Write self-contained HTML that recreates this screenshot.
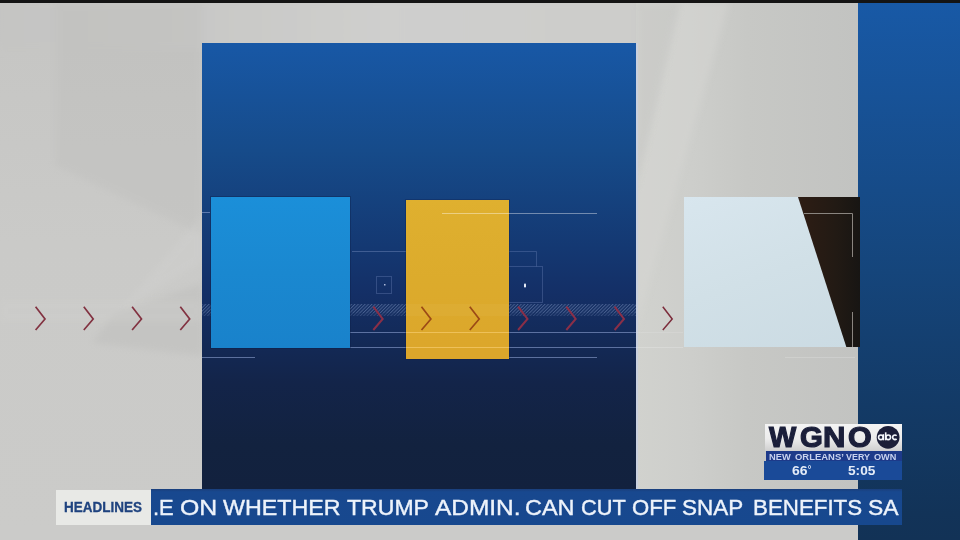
<!DOCTYPE html>
<html><head><meta charset="utf-8">
<style>
html,body{margin:0;padding:0;}
body{width:960px;height:540px;overflow:hidden;position:relative;background:#c6c6c4;font-family:"Liberation Sans",sans-serif;}
.a{position:absolute;}
#bg{left:0;top:0;width:960px;height:540px;}
#topbar{left:0;top:0;width:960px;height:3px;background:#141414;}
#panel{left:201.5px;top:43px;width:434.5px;height:447px;background:linear-gradient(to bottom,#1858a6 0%,#164b8a 24%,#143872 46%,#142f66 56%,#132a58 66%,#132449 76%,#12223f 90%,#12213e 100%);}
#rpanel{left:858px;top:3px;width:102px;height:537px;background:linear-gradient(to bottom,#1859a6 0%,#164b88 35%,#15457b 50%,#133a66 75%,#123358 95%,#123256 100%);}
#sq1{left:210.5px;top:196.5px;width:139px;height:151px;background:linear-gradient(to bottom,#1b8fd9 0%,#1a88d0 50%,#1982cb 100%);box-shadow:0 0 0 1px rgba(12,28,70,0.35);}
#sq2{left:406px;top:200px;width:103px;height:159px;background:linear-gradient(to bottom,#dfb02f 0%,#dcab2c 50%,#dca62b 100%);box-shadow:0 0 0 1px rgba(12,28,70,0.3);}
#photo{left:683.5px;top:196.5px;width:176.5px;height:150.5px;background:linear-gradient(160deg,#d8e6ee 0%,#d1e0e7 50%,#cbdbe3 100%);overflow:hidden;}
#hl{left:56px;top:490px;width:95px;height:35px;background:#e8e9e6;}
#hl span{position:absolute;top:10px;font-weight:bold;font-size:14px;line-height:1;color:#1f437f;white-space:nowrap;transform-origin:0 0;-webkit-text-stroke:0.3px #1f437f;}
#tk{left:151px;top:489px;width:751px;height:35.5px;background:linear-gradient(to bottom,#1a3f7c 0%,#18488f 8%,#17488e 100%);overflow:hidden;}
#tk span{position:absolute;top:8px;font-size:22px;line-height:1;color:#edf3fb;white-space:nowrap;transform-origin:0 0;-webkit-text-stroke:0.4px #edf3fb;}
#logo{left:764px;top:424px;width:138px;height:56px;}
#logo span{position:absolute;line-height:1;white-space:nowrap;transform-origin:0 0;font-weight:bold;}
.lg{top:-1.9px;font-size:29.5px;color:#1b1f3a;-webkit-text-stroke:1.2px #1b1f3a;}
.abc{top:6.5px;font-size:11px;color:#ffffff;}
.nw{top:28.8px;font-size:8.5px;color:#c8d2ef;}
.tm{top:41.25px;font-size:12.5px;color:#e4ecf8;}
</style></head><body>
<svg id="bg" class="a" width="960" height="540">
  <defs>
    <linearGradient id="gl" x1="0" y1="0" x2="0" y2="1">
      <stop offset="0" stop-color="#c5c5c3"/><stop offset="0.45" stop-color="#cacac8"/><stop offset="1" stop-color="#cbcbc9"/>
    </linearGradient>
    <linearGradient id="gm" x1="0" y1="0" x2="1" y2="0">
      <stop offset="0" stop-color="#d1d2ce"/><stop offset="0.25" stop-color="#cdcecb"/><stop offset="0.5" stop-color="#c7c8c5"/><stop offset="1" stop-color="#c2c3c1"/>
    </linearGradient>
    <linearGradient id="gt" x1="0" y1="0" x2="1" y2="0">
      <stop offset="0" stop-color="#c5c5c3"/><stop offset="0.2" stop-color="#c8c8c6"/><stop offset="0.4" stop-color="#cfcfcd"/><stop offset="0.66" stop-color="#cdcdcb"/><stop offset="1" stop-color="#cbcbc9"/>
    </linearGradient>
    <filter id="bl" x="-20%" y="-20%" width="140%" height="140%"><feGaussianBlur stdDeviation="3"/></filter>
  </defs>
  <rect x="0" y="0" width="960" height="540" fill="url(#gl)"/>
  <rect x="0" y="0" width="960" height="50" fill="url(#gt)" filter="url(#bl)"/>
  <rect x="636" y="0" width="222" height="540" fill="url(#gm)"/>
  <polygon points="55,3 202,3 202,235 55,165" fill="#bdbdbb" opacity="0.35" filter="url(#bl)"/>
  <polygon points="120,310 202,215 202,262 125,308" fill="#d2d2d0" opacity="0.35" filter="url(#bl)"/>
  <polygon points="92,343 112,315 202,283 202,356" fill="#bdbdbb" opacity="0.45" filter="url(#bl)"/>
  <rect x="0" y="300" width="202" height="22" fill="#d0d0ce" opacity="0.3" filter="url(#bl)"/>
  <polygon points="680,3 729,3 636,330 636,190" fill="#d6d6d3" opacity="0.5" filter="url(#bl)"/>
  <polygon points="636,3 680,3 636,190" fill="#c4c4c2" opacity="0.4" filter="url(#bl)"/>
  <rect x="636" y="43" width="2" height="447" fill="#c9d0de"/>
  <rect x="0" y="525" width="960" height="15" fill="#cbcbc9"/>
</svg>
<div id="topbar" class="a"></div>
<div id="panel" class="a"></div>
<div id="rpanel" class="a"></div>
<svg class="a" style="left:0;top:0" width="960" height="540">
  <defs>
    <pattern id="hatch" width="2.4" height="4" patternUnits="userSpaceOnUse" patternTransform="rotate(45)">
      <rect width="1" height="4" fill="#8ea4d0" opacity="0.42"/>
    </pattern>
  </defs>
  <!-- hatched band -->
  <rect x="202" y="304" width="434" height="9" fill="url(#hatch)"/><rect x="202" y="313" width="434" height="3" fill="url(#hatch)" opacity="0.6"/>
  <!-- thin lines -->
  <g stroke="#8ea2d2" stroke-width="1" opacity="0.6">
    <line x1="202" y1="212.5" x2="210" y2="212.5"/>
    
    <line x1="352" y1="251.5" x2="406" y2="251.5" opacity="0.6"/>
    <line x1="202" y1="357.5" x2="255" y2="357.5"/>
    <line x1="508" y1="357.5" x2="597" y2="357.5"/>
    <line x1="350" y1="332.5" x2="636" y2="332.5"/>
    <line x1="350" y1="347.5" x2="636" y2="347.5"/>
    <rect x="376.5" y="276.5" width="15" height="17" fill="none" opacity="0.45"/>
    <polyline points="508,251.5 536.5,251.5 536.5,266.5" fill="none" opacity="0.45"/>
    <rect x="508.5" y="266.5" width="34" height="36" fill="none" opacity="0.45"/>
  </g>
  <rect x="384" y="284" width="1.5" height="1.5" fill="#aab8d8"/>
  <rect x="524" y="283.5" width="2" height="4" rx="0.8" fill="#e8eef8"/>
</svg>
<div id="sq1" class="a"></div>
<div id="sq2" class="a"></div>
<svg class="a" style="left:0;top:0" width="960" height="540">
  <rect x="406" y="304" width="103" height="12" fill="#ffffff" opacity="0.035"/>
  <line x1="636" y1="332.5" x2="683" y2="332.5" stroke="#ffffff" stroke-width="1" opacity="0.12"/>
  <line x1="636" y1="347.5" x2="683" y2="347.5" stroke="#ffffff" stroke-width="1" opacity="0.2"/>
  <line x1="785" y1="357.5" x2="855" y2="357.5" stroke="#ffffff" stroke-width="1" opacity="0.18"/>
  <line x1="442" y1="213.5" x2="597" y2="213.5" stroke="#ffffff" stroke-width="1" opacity="0.4"/>
  <g stroke="#f3c766" stroke-width="1" opacity="0.8">
    <line x1="406" y1="332.5" x2="509" y2="332.5"/>
    <line x1="406" y1="347.5" x2="509" y2="347.5"/>
  </g>
  <g fill="none" stroke-width="2" stroke-linecap="butt">
    <g stroke="#823241" stroke-width="1.7">
      <polyline points="35.6,306.7 45,319 35.6,330"/>
      <polyline points="83.8,306.7 93.2,319 83.8,330"/>
      <polyline points="132.1,306.7 141.5,319 132.1,330"/>
      <polyline points="180.3,306.7 189.7,319 180.3,330"/>
    </g>
    <g stroke="#8a2f48">
      <polyline points="373.3,306.7 382.7,319 373.3,330"/>
      <polyline points="518.1,306.7 527.5,319 518.1,330"/>
      <polyline points="566.3,306.7 575.7,319 566.3,330"/>
      <polyline points="614.6,306.7 624,319 614.6,330"/>
    </g>
    <g stroke="#9c4a16" stroke-width="1.7">
      <polyline points="421.5,306.7 430.9,319 421.5,330"/>
      <polyline points="469.8,306.7 479.2,319 469.8,330"/>
    </g>
    <g stroke="#7c2c3b" stroke-width="1.5">
      <polyline points="662.8,306.7 672.2,319 662.8,330"/>
    </g>
  </g>
</svg>
<div id="photo" class="a">
  <svg width="177" height="151" style="position:absolute;left:0;top:0">
    <defs><linearGradient id="tri" x1="0" y1="0" x2="1" y2="0"><stop offset="0" stop-color="#2e1d14"/><stop offset="0.6" stop-color="#221a14"/><stop offset="1" stop-color="#171513"/></linearGradient></defs><polygon points="114,0 176.5,0 176.5,150.5 162.5,150.5" fill="url(#tri)"/>
    <polyline points="120,16.5 168.5,16.5 168.5,60" fill="none" stroke="#8a8580" stroke-width="1"/>
    <line x1="168.5" y1="115" x2="168.5" y2="151" stroke="#8a8580" stroke-width="1"/>
  </svg>
</div>
<div id="hl" class="a"><span style="left:8.44px;transform:scaleX(0.9637)">HEADLINES</span></div>
<div id="tk" class="a"><span style="left:2.21px;transform:scaleX(0.9944)">.E</span><span style="left:29.12px;transform:scaleX(1.1283)">ON</span><span style="left:72.00px;transform:scaleX(1.0564)">WHETHER</span><span style="left:195.80px;transform:scaleX(1.0481)">TRUMP</span><span style="left:283.70px;transform:scaleX(1.1107)">ADMIN.</span><span style="left:373.63px;transform:scaleX(1.0659)">CAN</span><span style="left:430.01px;transform:scaleX(0.9909)">CUT</span><span style="left:481.40px;transform:scaleX(1.0048)">OFF</span><span style="left:531.38px;transform:scaleX(1.0207)">SNAP</span><span style="left:601.57px;transform:scaleX(1.0143)">BENEFITS</span><span style="left:716.96px;transform:scaleX(1.0393)">SA</span></div>
<div id="logo" class="a">
  <div class="a" style="left:0.5px;top:0.4px;width:137.5px;height:26.6px;background:linear-gradient(to bottom,#f4f4f4 0%,#ececec 55%,#cfcfcf 100%);"></div>
  <div class="a" style="left:1.5px;top:27.2px;width:136.5px;height:10.2px;background:#1d3a8a;"></div>
  <div class="a" style="left:0.2px;top:37.4px;width:137.8px;height:18.6px;background:#1a4a98;"></div>
  <span class="lg" style="left:5.23px;transform:scaleX(0.9783)">W</span>
  <span class="lg" style="left:35.5px;transform:scaleX(0.9955)">G</span>
  <span class="lg" style="left:59.45px;transform:scaleX(1.0526)">N</span>
  <span class="lg" style="left:84.25px;transform:scaleX(1.0326)">O</span>
  <svg class="a" style="left:0;top:0" width="138" height="56">
    <circle cx="124.1" cy="13.3" r="11.4" fill="#1b1e38"/>
    <g fill="none" stroke="#f4f6fa" stroke-width="1.6">
      <circle cx="116.85" cy="13.3" r="2.3"/>
      <line x1="119.4" y1="10.2" x2="119.4" y2="16.3"/>
      <line x1="121.7" y1="8.3" x2="121.7" y2="16.3"/>
      <circle cx="124.25" cy="13.3" r="2.3"/>
      <path d="M132.6,11.7 A2.3,2.3 0 1,0 132.6,14.9"/>
    </g>
  </svg>
  <span class="nw" style="left:5.1px;transform:scaleX(1.095)">NEW</span>
  <span class="nw" style="left:30.6px;transform:scaleX(1.1114)">ORLEANS’</span>
  <span class="nw" style="left:82.4px;transform:scaleX(1.0478)">VERY</span>
  <span class="nw" style="left:110.1px;transform:scaleX(1.0762)">OWN</span>
  <span class="tm" style="left:27.5px;transform:scaleX(1.1143)">66</span>
  <span class="a" style="left:43.8px;top:41px;width:1.6px;height:1.6px;border:0.7px solid #dfe7f5;border-radius:50%;"></span>
  <span class="tm" style="left:83.91px;transform:scaleX(1.0938)">5:05</span>
</div>
</body></html>
